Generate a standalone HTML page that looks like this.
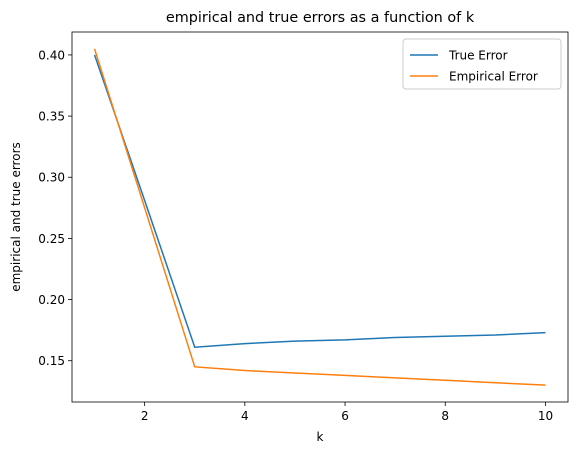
<!DOCTYPE html>
<html><head><meta charset="utf-8"><style>
body{margin:0;background:#fff}
svg text{font-family:"DejaVu Sans","Liberation Sans",sans-serif;fill:#000}
</style></head><body>
<svg id="c" width="576" height="455"></svg>
<script>
const ks=[1,2,3,4,5,6,7,8,9,10];
const trueErr=[0.400,0.281,0.161,0.164,0.166,0.167,0.169,0.170,0.171,0.173];
const empErr=[0.405,0.275,0.145,0.142,0.140,0.138,0.136,0.134,0.132,0.130];
const xTicks=[2,4,6,8,10];
const yTicks=[0.15,0.20,0.25,0.30,0.35,0.40];
const L=72,R=568,T=32,B=402;
const x0=0.55,x1=10.45,y0=0.11625,y1=0.41875;
const sx=v=>L+(v-x0)/(x1-x0)*(R-L);
const sy=v=>B-(v-y0)/(y1-y0)*(B-T);
const svg=document.getElementById('c');
const NS='http://www.w3.org/2000/svg';
function mk(t,a,txt){const e=document.createElementNS(NS,t);for(const k in a)e.setAttribute(k,a[k]);if(txt!==undefined)e.textContent=txt;svg.appendChild(e);return e;}
xTicks.forEach(v=>{
 const l=mk('line',{x1:sx(v),x2:sx(v),y1:B,y2:B+4,stroke:'#000','stroke-width':0.8});
 
 
 const t=mk('text',{x:sx(v),y:B+18,'text-anchor':'middle','font-size':12},String(v));
 
 
});
yTicks.forEach(v=>{
 const l=mk('line',{x1:L-4,x2:L,y1:sy(v),y2:sy(v),stroke:'#000','stroke-width':0.8});
 
 
 const t=mk('text',{x:L-7,y:sy(v)+4.5,'text-anchor':'end','font-size':12},v.toFixed(2));
 
 
});
function line(vals,col,name){
 const p=mk('polyline',{points:ks.map((k,i)=>sx(k)+','+sy(vals[i])).join(' '),fill:'none',stroke:col,'stroke-width':1.5});
 
 
}
line(trueErr,'#1f77b4','true-error-line');
line(empErr,'#ff7f0e','empirical-error-line');
const f=mk('rect',{x:L,y:T,width:R-L,height:B-T,fill:'none',stroke:'#000','stroke-width':0.8});


const ti=mk('text',{x:(L+R)/2,y:22,'text-anchor':'middle','font-size':14.4},'empirical and true errors as a function of k');


const xl=mk('text',{x:(L+R)/2,y:441,'text-anchor':'middle','font-size':12},'k');


const yl=mk('text',{x:20,y:(T+B)/2,'text-anchor':'middle','font-size':12,transform:'rotate(-90 20 '+(T+B)/2+')'},'empirical and true errors');


const lg=mk('rect',{x:403,y:39,width:158,height:50,rx:3,fill:'#fff',stroke:'#ccc','stroke-width':1});


[['True Error','#1f77b4',55],['Empirical Error','#ff7f0e',76]].forEach(([n,c,y])=>{
 const l=mk('line',{x1:410,x2:438,y1:y,y2:y,stroke:c,'stroke-width':1.5});
 
 
 const t=mk('text',{x:449,y:y+4.5,'font-size':12},n);
 
 
});
</script>
</body></html>
